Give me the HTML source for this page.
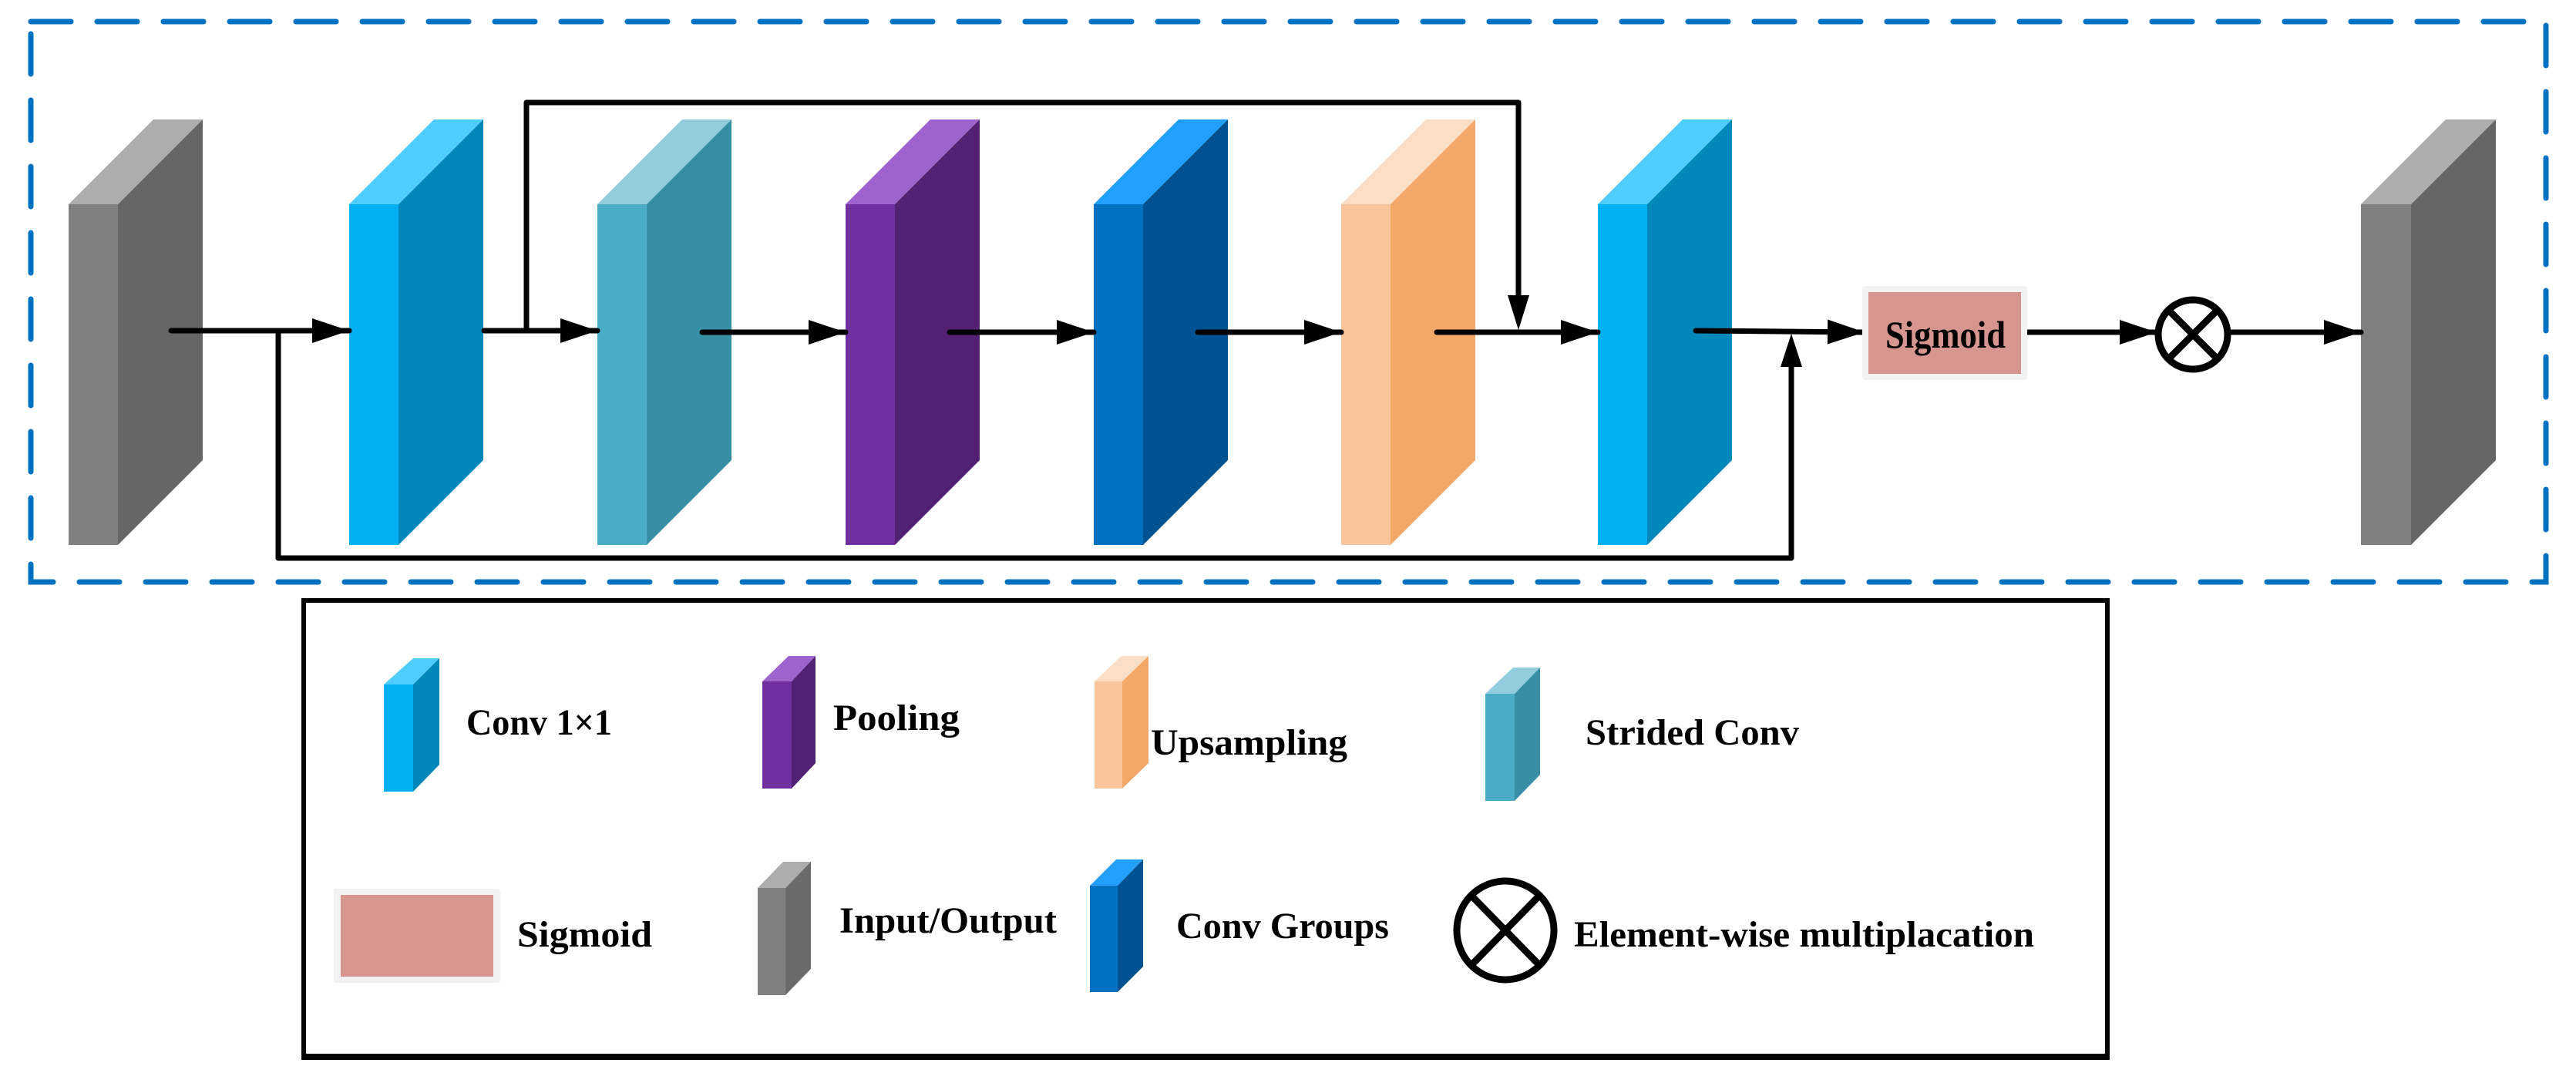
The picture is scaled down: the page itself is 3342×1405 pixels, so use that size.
<!DOCTYPE html>
<html><head><meta charset="utf-8"><style>html,body{margin:0;padding:0;background:#fff}svg{display:block}</style></head>
<body>
<svg width="3342" height="1405" viewBox="0 0 3342 1405" xmlns="http://www.w3.org/2000/svg" font-family="'Liberation Serif', serif" font-weight="bold">
<defs>
<marker id="ah" markerWidth="10" markerHeight="10" refX="0" refY="0" orient="auto" markerUnits="userSpaceOnUse" overflow="visible">
<path d="M-48,-16 L0,0 L-48,16 Z" fill="#000"/>
</marker>
</defs>
<rect x="40" y="28" width="3263" height="727" fill="none" stroke="#0070c0" stroke-width="7" stroke-dasharray="52,34" stroke-linecap="round"/>

<g id="blocks">
<polygon points="89,265 153,265 263,155 199,155" fill="#adadad"/><polygon points="153,265 263,155 263,597 153,707" fill="#666"/><rect x="89" y="265" width="64" height="442" fill="#808080"/>
<polygon points="453,265 517,265 627,155 563,155" fill="#50cdff"/><polygon points="517,265 627,155 627,597 517,707" fill="#0088bb"/><rect x="453" y="265" width="64" height="442" fill="#00b0f0"/>
<polygon points="775,265 839,265 949,155 885,155" fill="#93cddd"/><polygon points="839,265 949,155 949,597 839,707" fill="#378fa6"/><rect x="775" y="265" width="64" height="442" fill="#4bacc6"/>
<polygon points="1097,265 1161,265 1271,155 1207,155" fill="#9e63cc"/><polygon points="1161,265 1271,155 1271,597 1161,707" fill="#532174"/><rect x="1097" y="265" width="64" height="442" fill="#7030a0"/>
<polygon points="1419,265 1483,265 1593,155 1529,155" fill="#229fff"/><polygon points="1483,265 1593,155 1593,597 1483,707" fill="#005392"/><rect x="1419" y="265" width="64" height="442" fill="#0070c0"/>
<polygon points="1740,265 1804,265 1914,155 1850,155" fill="#fbdec6"/><polygon points="1804,265 1914,155 1914,597 1804,707" fill="#f4a868"/><rect x="1740" y="265" width="64" height="442" fill="#f8c59c"/>
<polygon points="2073,265 2137,265 2247,155 2183,155" fill="#50cdff"/><polygon points="2137,265 2247,155 2247,597 2137,707" fill="#0088bb"/><rect x="2073" y="265" width="64" height="442" fill="#00b0f0"/>
<polygon points="3063,265 3128,265 3238,155 3173,155" fill="#adadad"/><polygon points="3128,265 3238,155 3238,597 3128,707" fill="#666"/><rect x="3063" y="265" width="65" height="442" fill="#808080"/>
</g>

<g stroke="#000" stroke-width="7" fill="none" stroke-linecap="round">
<line x1="222" y1="429" x2="453" y2="429" marker-end="url(#ah)"/>
<line x1="628" y1="429" x2="775" y2="429" marker-end="url(#ah)"/>
<line x1="911" y1="431" x2="1097" y2="431" marker-end="url(#ah)"/>
<line x1="1232" y1="431" x2="1419" y2="431" marker-end="url(#ah)"/>
<line x1="1554" y1="431" x2="1740" y2="431" marker-end="url(#ah)"/>
<line x1="1864" y1="431" x2="2073" y2="431" marker-end="url(#ah)"/>
<line x1="2200" y1="429" x2="2419" y2="431" marker-end="url(#ah)"/>
<line x1="2624" y1="431" x2="2798" y2="431" marker-end="url(#ah)"/>
<line x1="2891" y1="431" x2="3063" y2="431" marker-end="url(#ah)"/>
<polyline points="683,429 683,133 1970,133 1970,383" stroke-linejoin="round"/>
<polyline points="361,429 361,724 2324,724 2324,476" stroke-linejoin="round"/>
</g>
<polygon points="1956,383 1984,383 1970,428" fill="#000"/>
<polygon points="2310,476 2338,476 2324,433" fill="#000"/>

<rect x="2416" y="371" width="214" height="122" rx="4" fill="#f2f2f2"/>
<rect x="2424" y="379" width="198" height="106" fill="#d79590"/>
<text x="2446" y="451" font-size="50" textLength="156" lengthAdjust="spacingAndGlyphs">Sigmoid</text>

<g stroke="#000" stroke-width="9" fill="#fff">
<circle cx="2845" cy="434" r="45"/>
<line x1="2813" y1="402" x2="2877" y2="466"/>
<line x1="2877" y1="402" x2="2813" y2="466"/>
</g>

<rect x="394" y="779" width="2340" height="593" fill="none" stroke="#000" stroke-width="6"/>
<line x1="391" y1="1371" x2="2737" y2="1371" stroke="#000" stroke-width="8"/>

<g>
<polygon points="498,888 536,888 570,854 536,854" fill="#50cdff"/><polygon points="536,888 570,854 570,992 536,1027" fill="#0088bb"/><rect x="498" y="888" width="38" height="139" fill="#00b0f0"/>
<polygon points="989,884 1027,884 1058,851 1023,851" fill="#9e63cc"/><polygon points="1027,884 1058,851 1058,990 1027,1023" fill="#532174"/><rect x="989" y="884" width="38" height="139" fill="#7030a0"/>
<polygon points="1420,884 1456,884 1490,851 1455,851" fill="#fbdec6"/><polygon points="1456,884 1490,851 1490,990 1456,1023" fill="#f4a868"/><rect x="1420" y="884" width="36" height="139" fill="#f8c59c"/>
<polygon points="1927,900 1965,900 1998,866 1963,866" fill="#93cddd"/><polygon points="1965,900 1998,866 1998,1005 1965,1039" fill="#378fa6"/><rect x="1927" y="900" width="38" height="139" fill="#4bacc6"/>
<rect x="433" y="1153" width="216" height="122" rx="3" fill="#f2f2f2"/>
<rect x="442" y="1161" width="198" height="106" fill="#d79590"/>
<polygon points="983,1152 1019,1152 1052,1118 1016,1118" fill="#adadad"/><polygon points="1019,1152 1052,1118 1052,1257 1019,1291" fill="#6b6b6b"/><rect x="983" y="1152" width="36" height="139" fill="#808080"/>
<polygon points="1414,1149 1450,1149 1483,1115 1448,1115" fill="#229fff"/><polygon points="1450,1149 1483,1115 1483,1254 1450,1287" fill="#005392"/><rect x="1414" y="1149" width="36" height="138" fill="#0070c0"/>
<g stroke="#000" stroke-width="9" fill="none">
<ellipse cx="1953" cy="1207" rx="63" ry="64"/>
<line x1="1909" y1="1162" x2="1997" y2="1252"/>
<line x1="1997" y1="1162" x2="1909" y2="1252"/>
</g>
</g>

<g font-size="48" fill="#000">
<text x="605" y="953" textLength="189" lengthAdjust="spacingAndGlyphs">Conv 1×1</text>
<text x="1081" y="947" textLength="164" lengthAdjust="spacingAndGlyphs">Pooling</text>
<text x="1493" y="979" textLength="255" lengthAdjust="spacingAndGlyphs">Upsampling</text>
<text x="2057" y="966" textLength="277" lengthAdjust="spacingAndGlyphs">Strided Conv</text>
<text x="671" y="1228" textLength="175" lengthAdjust="spacingAndGlyphs">Sigmoid</text>
<text x="1089" y="1210" textLength="282" lengthAdjust="spacingAndGlyphs">Input/Output</text>
<text x="1526" y="1217" textLength="276" lengthAdjust="spacingAndGlyphs">Conv Groups</text>
<text x="2042" y="1228" textLength="597" lengthAdjust="spacingAndGlyphs">Element-wise multiplacation</text>
</g>
</svg>
</body></html>
